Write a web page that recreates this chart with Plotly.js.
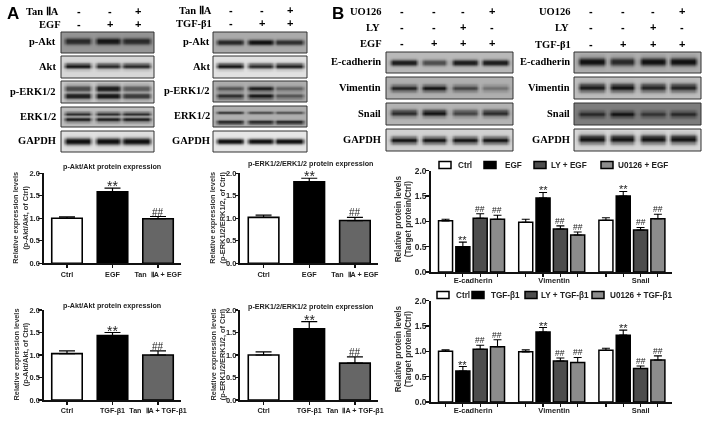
<!DOCTYPE html>
<html><head><meta charset="utf-8">
<script src="https://cdn.plot.ly/plotly-3.0.1.min.js"></script>
<style>html,body{margin:0;padding:0;background:#fff}#c{width:708px;height:421px;filter:blur(0.35px)}</style>
</head><body><div id="c"></div>
<script>
const W = 708, H = 421;
const SERIF = '"Liberation Serif", serif', SANS = '"Liberation Sans", Arial, sans-serif';

// ---- Panel A bar charts ----
const ctrlA = 'Ctrl';
const catsEGF = [ctrlA, 'EGF', 'Tan  ⅡA + EGF'];
const catsTGF = [ctrlA, 'TGF-β1', 'Tan  ⅡA + TGF-β1'];
const barColorsA = ['#ffffff', '#000000', '#666666'];
const akt_egf_vals = [1.00, 1.59, 0.99];
const akt_egf_errs = [0.03, 0.08, 0.05];
const erk_egf_vals = [1.02, 1.81, 0.95];
const erk_egf_errs = [0.05, 0.08, 0.07];
const akt_tgf_vals = [1.03, 1.43, 1.00];
const akt_tgf_errs = [0.06, 0.07, 0.09];
const erk_tgf_vals = [1.00, 1.58, 0.82];
const erk_tgf_errs = [0.07, 0.16, 0.14];
const marksA = ['', '**', '##'];

// ---- Panel B bar charts ----
const targets = ['E-cadherin', 'Vimentin', 'Snail'];
const targetTickPos = [0.02, 1.03, 2.11];
const barColorsB = ['#ffffff', '#000000', '#4d4d4d', '#8c8c8c'];
const namesEGF = ['Ctrl', 'EGF', 'LY + EGF', 'U0126 + EGF'];
const namesTGF = ['Ctrl', 'TGF-β1', 'LY + TGF-β1', 'U0126 + TGF-β1'];
const egf_ctrl = [1.01, 0.98, 1.02], egf_ctrl_e = [0.03, 0.06, 0.05];
const egf_egf  = [0.50, 1.46, 1.50], egf_egf_e  = [0.09, 0.11, 0.09];
const egf_ly   = [1.06, 0.85, 0.83], egf_ly_e   = [0.09, 0.06, 0.05];
const egf_uo   = [1.04, 0.73, 1.05], egf_uo_e   = [0.08, 0.06, 0.09];
const tgf_ctrl = [1.00, 0.99, 1.02], tgf_ctrl_e = [0.03, 0.04, 0.04];
const tgf_tgf  = [0.61, 1.38, 1.32], tgf_tgf_e  = [0.09, 0.09, 0.10];
const tgf_ly   = [1.04, 0.81, 0.66], tgf_ly_e   = [0.08, 0.06, 0.05];
const tgf_uo   = [1.09, 0.78, 0.83], tgf_uo_e   = [0.14, 0.10, 0.08];
const marksB = ['', '**', '##', '##'];
const legendEGF = {box:[439, 484, 534, 601], text:[457, 504, 550, 617]};
const legendTGF = {box:[437, 472, 525, 592], text:[455, 490, 540, 609]};

// ---- Blot panels: label, box, background grey, bands [y, sigma, lane darkness] ----
const lanes3 = [[0.18, 0.14], [0.505, 0.13], [0.81, 0.15]];
const lanes4 = [[0.14, 0.10], [0.38, 0.095], [0.62, 0.10], [0.86, 0.10]];
const blotsA1 = [
 ['p-Akt', 32, 53, 150, [[.42,.11,[.85,1,.85]]]],
 ['Akt', 56, 78, 215, [[.45,.09,[1,.9,.9]]]],
 ['p-ERK1/2', 81, 103, 200, [[.33,.11,[.7,.95,.6]],[.68,.10,[.95,1,.8]]]],
 ['ERK1/2', 107, 127, 190, [[.33,.06,[.9,.9,.9]],[.62,.08,[.95,.95,.95]]]],
 ['GAPDH', 131, 152, 225, [[.48,.12,[1,1,1]]]]];
const blotsA2 = [
 ['p-Akt', 32, 53, 170, [[.48,.09,[.85,1,.8]]]],
 ['Akt', 56, 78, 225, [[.45,.09,[1,.9,.95]]]],
 ['p-ERK1/2', 81, 102, 175, [[.35,.09,[.6,.95,.5]],[.70,.09,[.85,1,.6]]]],
 ['ERK1/2', 106, 127, 175, [[.30,.05,[.85,.7,.65]],[.75,.06,[.95,.95,.95]]]],
 ['GAPDH', 131, 152, 230, [[.48,.09,[1,1,1]]]]];
const blotsB1 = [
 ['E-cadherin', 52, 73, 185, [[.50,.10,[.95,.65,.95,.95]]]],
 ['Vimentin', 77, 99, 175, [[.50,.10,[.9,1,.7,.4]]]],
 ['Snail', 103, 125, 180, [[.45,.11,[.85,1,.7,.85]]]],
 ['GAPDH', 129, 151, 210, [[.50,.11,[1,1,1,1]]]]];
const blotsB2 = [
 ['E-cadherin', 52, 73, 175, [[.45,.14,[1,.85,1,1]]]],
 ['Vimentin', 77, 99, 190, [[.47,.13,[.95,1,.9,.9]]]],
 ['Snail', 103, 125, 125, [[.50,.10,[.8,1,.7,.8]]]],
 ['GAPDH', 129, 151, 215, [[.45,.14,[1,1,1,1]]]]];
const blotGroups = [
 {x0:61,  x1:154, labelRight:57,  lanes:lanes3, rows:blotsA1},
 {x0:213, x1:307, labelRight:211, lanes:lanes3, rows:blotsA2},
 {x0:386, x1:513, labelRight:382, lanes:lanes4, rows:blotsB1},
 {x0:574, x1:701, labelRight:571, lanes:lanes4, rows:blotsB2}];

// ---- Treatment sign rows ----
const signRows = [
 {right:60,  y:11, text:'Tan ⅡA', xs:[79,110,138], s:['-','-','+']},
 {right:62,  y:24, text:'EGF',    xs:[79,110,138], s:['-','+','+']},
 {right:213, y:10, text:'Tan ⅡA', xs:[231,262,290], s:['-','-','+']},
 {right:213, y:23, text:'TGF-β1', xs:[231,262,290], s:['-','+','+']},
 {right:383, y:11, text:'UO126', xs:[402,434,463,492], s:['-','-','-','+']},
 {right:381, y:27, text:'LY',    xs:[402,434,463,492], s:['-','-','+','-']},
 {right:383, y:43, text:'EGF',   xs:[402,434,463,492], s:['-','+','+','+']},
 {right:572, y:11, text:'UO126', xs:[591,623,653,682], s:['-','-','-','+']},
 {right:570, y:27, text:'LY',    xs:[591,623,653,682], s:['-','-','+','-']},
 {right:572, y:44, text:'TGF-β1',xs:[591,623,653,682], s:['-','+','+','+']}];

const traces = [], annotations = [], shapes = [];
const layout = {width:W, height:H, margin:{l:0,r:0,t:0,b:0}, paper_bgcolor:'#fff', plot_bgcolor:'rgba(0,0,0,0)',
  showlegend:false, bargap:0.136, bargroupgap:0.19, barmode:'group', annotations, shapes,
  xaxis:{domain:[0,1], range:[0,W], visible:false, fixedrange:true},
  yaxis:{domain:[0,1], range:[H,0], visible:false, fixedrange:true}};

function txt(x, y, text, opts) {
  annotations.push(Object.assign({xref:'x', yref:'y', x, y, text, showarrow:false, xanchor:'center', yanchor:'middle',
    borderpad:0, font:{family:SANS, size:8, color:'#111'}}, opts||{}));
}

// blots as smoothed heatmaps
blotGroups.forEach(g => {
  g.rows.forEach(r => {
    const [label, y0, y1, bg, bands] = r;
    const nc = 60, nr = 18, z = [];
    for (let j = 0; j < nr; j++) {
      const row = [], fy = (j + .5) / nr;
      for (let i = 0; i < nc; i++) {
        const fx = (i + .5) / nc;
        let dark = 0;
        bands.forEach(b => {
          const vy = Math.exp(-Math.pow((fy - b[0]) / b[1], 2) / 2);
          g.lanes.forEach((l, k) => {
            const d = Math.abs(fx - l[0]) / l[1];
            const vx = d < .8 ? 1 : Math.exp(-Math.pow((d - .8) / .25, 2));
            dark = Math.max(dark, vy * vx * b[2][k]);
          });
        });
        row.push(bg * (1 - dark) + 15 * dark);
      }
      z.push(row);
    }
    traces.push({type:'heatmap', xaxis:'x', yaxis:'y', z, zmin:0, zmax:255, zsmooth:'best', showscale:false,
      x0:g.x0 + (g.x1 - g.x0) / nc / 2, dx:(g.x1 - g.x0) / nc,
      y0:y0 + (y1 - y0) / nr / 2, dy:(y1 - y0) / nr,
      colorscale:[[0,'#000'],[1,'#fff']], hoverinfo:'skip'});
    shapes.push({type:'rect', xref:'x', yref:'y', x0:g.x0, x1:g.x1, y0, y1, line:{color:'#333', width:1}});
    txt(g.labelRight, (y0 + y1) / 2 - 1, label, {xanchor:'right', font:{family:SERIF, size:10.5, color:'#000', weight:700}});
  });
});

// panel letters and sign rows
txt(13, 13, 'A', {font:{family:SANS, size:17, color:'#000', weight:700}});
txt(338, 13, 'B', {font:{family:SANS, size:17, color:'#000', weight:700}});
signRows.forEach(r => {
  txt(r.right, r.y, r.text, {xanchor:'right', font:{family:SERIF, size:10.5, color:'#000', weight:700}});
  r.xs.forEach((x, i) => txt(x, r.y, r.s[i], {font:{family:SANS, size:11, color:'#000', weight:700}}));
});

let axN = 2;
function axisKeys() { const n = axN++; return {x:'x'+n, y:'y'+n, xk:'xaxis'+n, yk:'yaxis'+n}; }
function pd(a, b) { return [a / W, b / W]; }
function pv(top, bottom) { return [1 - bottom / H, 1 - top / H]; }
const yBase = {range:[0,2], tickvals:[0,.5,1,1.5,2], ticktext:['0.0','0.5','1.0','1.5','2.0'], showgrid:false, zeroline:false,
  showline:true, linecolor:'#111', ticks:'outside', tickcolor:'#111', fixedrange:true};

function panelA(o) {
  const a = axisKeys();
  traces.push({type:'bar', xaxis:a.x, yaxis:a.y, x:o.cats, y:o.vals, width:.67,
    marker:{color:barColorsA, line:{color:'#000', width:1.6}},
    error_y:{type:'data', symmetric:false, array:o.errs, arrayminus:[0,0,0], color:'#000', thickness:1.2, width:8}, hoverinfo:'skip'});
  layout[a.xk] = {domain:pd(o.x0, o.x1), anchor:a.y, type:'category', categoryorder:'array', categoryarray:o.cats,
    range:[-.516, 2.505], showline:true, linecolor:'#111', linewidth:1.6, ticks:'outside', ticklen:3, tickwidth:1.2, tickcolor:'#111',
    showgrid:false, zeroline:false, fixedrange:true, tickfont:{family:SANS, size:7.2, color:'#222', weight:700}};
  layout[a.yk] = Object.assign({}, yBase, {domain:pv(o.top, o.bottom), anchor:a.x, linewidth:1.6, ticklen:3.5, tickwidth:1.2,
    ticklabelstandoff:-3, tickfont:{family:SANS, size:7.5, color:'#222', weight:700}});
  txt(o.titleX, o.titleY, o.title, {font:{family:SANS, size:7.2, color:'#222', weight:700}});
  txt(o.yTitleX, (o.top + o.bottom) / 2 - .5, o.ytitle, {textangle:-90, font:{family:SANS, size:7.4, color:'#333', weight:700}});
  o.vals.forEach((v, i) => {
    if (!marksA[i]) return;
    const star = marksA[i] === '**';
    annotations.push({xref:a.x, yref:a.y, x:i, y:v + o.errs[i], text:marksA[i], showarrow:false, yanchor:'bottom',
      yshift: star ? -7 : -2, borderpad:0, font:{family:SANS, size: star ? 14 : 10, color:'#222'}});
  });
}
panelA({cats:catsEGF, vals:akt_egf_vals, errs:akt_egf_errs, x0:43.5, x1:181, top:173.3, bottom:263.3, yTitleX:21,
  title:'p-Akt/Akt protein expression', titleX:112, titleY:166, ytitle:'Relative expression levels<br>(p-Akt/Akt, of Ctrl)'});
panelA({cats:catsEGF, vals:erk_egf_vals, errs:erk_egf_errs, x0:240, x1:378, top:173.3, bottom:263.3, yTitleX:218,
  title:'p-ERK1/2/ERK1/2 protein expression', titleX:310, titleY:163.5, ytitle:'Relative expression levels<br>(p-ERK1/2/ERK1/2, of Ctrl)'});
panelA({cats:catsTGF, vals:akt_tgf_vals, errs:akt_tgf_errs, x0:43.5, x1:181, top:310, bottom:400, yTitleX:21,
  title:'p-Akt/Akt protein expression', titleX:112, titleY:305, ytitle:'Relative expression levels<br>(p-Akt/Akt, of Ctrl)'});
panelA({cats:catsTGF, vals:erk_tgf_vals, errs:erk_tgf_errs, x0:240, x1:378, top:310, bottom:400, yTitleX:218,
  title:'p-ERK1/2/ERK1/2 protein expression', titleX:310, titleY:306, ytitle:'Relative expression levels<br>(p-ERK1/2/ERK1/2, of Ctrl)'});

function panelB(o) {
  const a = axisKeys();
  o.series.forEach((s, k) => {
    traces.push({type:'bar', xaxis:a.x, yaxis:a.y, x:[0,1,2], y:s[0], name:o.names[k],
      marker:{color:barColorsB[k], line:{color:'#000', width:1.5}},
      error_y:{type:'data', symmetric:false, array:s[1], arrayminus:[0,0,0], color:'#000', thickness:1.1, width:4}, hoverinfo:'skip'});
    s[0].forEach((v, i) => {
      if (!marksB[k]) return;
      const star = marksB[k] === '**';
      annotations.push({xref:a.x, yref:a.y, x:i + (k - 1.5) * .2157, y:v + s[1][i], text:marksB[k], showarrow:false, yanchor:'bottom',
        yshift: star ? -5 : -1, borderpad:0, font:{family:SANS, size: star ? 11 : 8.5, color:'#222'}});
    });
  });
  const minorVals = [];
  [0,1,2].forEach(g => [0,1,2,3].forEach(k => minorVals.push(g + (k - 1.5) * .2157)));
  layout[a.xk] = {domain:pd(430.7, 672), anchor:a.y, type:'linear', range:[-.509, 2.5], showline:true, linecolor:'#111', linewidth:1.6,
    tickmode:'array', tickvals:targetTickPos, ticktext:targets, ticks:'', showgrid:false, zeroline:false, fixedrange:true,
    minor:{tickmode:'array', tickvals:minorVals, ticks:'outside', ticklen:3, tickwidth:1.2, tickcolor:'#111', showgrid:false},
    tickfont:{family:SANS, size:7.5, color:'#222', weight:700}};
  layout[a.yk] = Object.assign({}, yBase, {domain:pv(o.top, o.bottom), anchor:a.x, linewidth:1.6, ticklen:4, tickwidth:1.4,
    ticklabelstandoff:-3, tickfont:{family:SANS, size:8.4, color:'#222', weight:700}});
  txt(404, (o.top + o.bottom) / 2 - 2, 'Relative protein levels<br>(Target protein/Ctrl)', {textangle:-90, font:{family:SANS, size:8.2, color:'#333', weight:700}});
  o.names.forEach((n, k) => {
    shapes.push({type:'rect', xref:'x', yref:'y', x0:o.legend.box[k], x1:o.legend.box[k] + 12, y0:o.legY - 3.5, y1:o.legY + 3.5,
      fillcolor:barColorsB[k], line:{color:'#000', width:1.5}});
    txt(o.legend.text[k], o.legY, n, {xanchor:'left', font:{family:SANS, size:8.2, color:'#222', weight:700}});
  });
}
panelB({names:namesEGF, top:170.7, bottom:272, legY:165, legend:legendEGF,
  series:[[egf_ctrl,egf_ctrl_e],[egf_egf,egf_egf_e],[egf_ly,egf_ly_e],[egf_uo,egf_uo_e]]});
panelB({names:namesTGF, top:300.7, bottom:402, legY:295, legend:legendTGF,
  series:[[tgf_ctrl,tgf_ctrl_e],[tgf_tgf,tgf_tgf_e],[tgf_ly,tgf_ly_e],[tgf_uo,tgf_uo_e]]});

Plotly.newPlot('c', traces, layout, {displayModeBar:false, staticPlot:true});
</script></body></html>
